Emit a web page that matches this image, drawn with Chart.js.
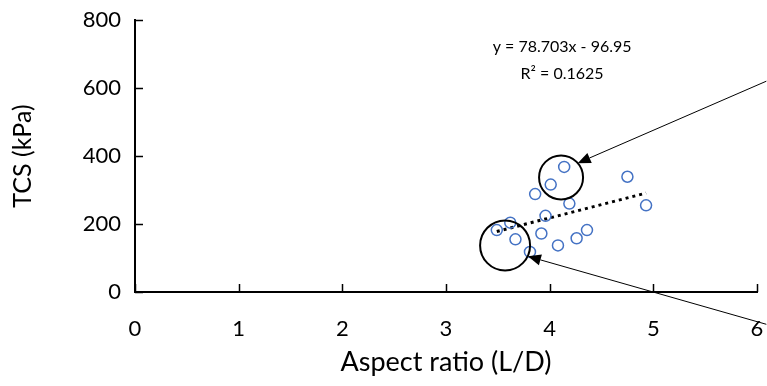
<!DOCTYPE html>
<html>
<head>
<meta charset="utf-8">
<script src="https://cdn.jsdelivr.net/npm/chart.js@4"></script>
<style>
  html, body { margin: 0; padding: 0; background: #fff; }
  #wrap { width: 767px; height: 386px; }
</style>
</head>
<body>
<div id="wrap"><canvas id="tcsChart"></canvas></div>
<script>
// Dados
const aspectRatio = [3.49, 3.62, 3.67, 3.81, 3.86, 3.92, 3.96, 4.01, 4.08, 4.14, 4.19, 4.26, 4.36, 4.75, 4.93];
const tcs = [182, 204, 155, 118, 288, 172, 224, 316, 137, 368, 260, 158, 182, 339, 255];
const slope = 78.703;
const intercept = -96.95;
const eqLines = ['y = 78.703x - 96.95', 'R² = 0.1625'];

const FONT = 'Lato, "Open Sans", sans-serif';

const xMin = Math.min(...aspectRatio);
const xMax = Math.max(...aspectRatio);
const trend = [
    { x: xMin, y: slope * xMin + intercept },
    { x: xMax, y: slope * xMax + intercept }
];

// desenha marcas internas, círculos, setas e equação
const extras = {
    id: 'extras',
    afterDraw(chart) {
        const { ctx, scales: { x, y } } = chart;
        ctx.save();
        // marcas dos eixos (para dentro)
        ctx.strokeStyle = '#000';
        ctx.lineWidth = 1.5;
        ctx.beginPath();
        x.ticks.forEach(t => {
            const px = Math.round(x.getPixelForValue(t.value)) + 0.5;
            ctx.moveTo(px, y.bottom);
            ctx.lineTo(px, y.bottom - 8);
        });
        y.ticks.forEach(t => {
            const py = Math.round(y.getPixelForValue(t.value)) + 0.5;
            ctx.moveTo(x.left, py);
            ctx.lineTo(x.left + 8, py);
        });
        ctx.stroke();

        // círculos
        ctx.lineWidth = 2;
        [[4.11, 337, 22], [3.57, 137, 25]].forEach(c => {
            ctx.beginPath();
            ctx.arc(x.getPixelForValue(c[0]), y.getPixelForValue(c[1]), c[2], 0, Math.PI * 2);
            ctx.stroke();
        });

        // setas
        ctx.lineWidth = 1;
        ctx.fillStyle = '#000';
        [[6.09, 620, 4.27, 379], [6.09, -95, 3.79, 105]].forEach(a => {
            const x1 = x.getPixelForValue(a[0]), y1 = y.getPixelForValue(a[1]);
            const x2 = x.getPixelForValue(a[2]), y2 = y.getPixelForValue(a[3]);
            const ang = Math.atan2(y2 - y1, x2 - x1);
            const len = 13, w = 5.5;
            const bx = x2 - len * Math.cos(ang), by = y2 - len * Math.sin(ang);
            ctx.beginPath();
            ctx.moveTo(x1, y1);
            ctx.lineTo(bx, by);
            ctx.stroke();
            ctx.beginPath();
            ctx.moveTo(x2, y2);
            ctx.lineTo(bx + w * Math.sin(ang), by - w * Math.cos(ang));
            ctx.lineTo(bx - w * Math.sin(ang), by + w * Math.cos(ang));
            ctx.closePath();
            ctx.fill();
        });

        // equação
        ctx.font = '16px ' + FONT;
        ctx.textAlign = 'center';
        ctx.textBaseline = 'middle';
        ctx.fillStyle = '#000';
        const ex = x.getPixelForValue(4.12);
        ctx.fillText(eqLines[0], ex, y.getPixelForValue(720));
        ctx.fillText(eqLines[1], ex, y.getPixelForValue(643));
        ctx.restore();
    }
};

const ctx = document.getElementById('tcsChart').getContext('2d');
new Chart(ctx, {
    type: 'scatter',
    data: {
        datasets: [{
            label: 'TCS',
            data: aspectRatio.map((v, i) => ({ x: v, y: tcs[i] })),
            borderColor: '#4472C4',
            backgroundColor: 'rgba(0,0,0,0)',
            borderWidth: 1.5,
            pointRadius: 5.5,
            pointHoverRadius: 5.5
        }, {
            label: 'Linear',
            type: 'line',
            data: trend,
            borderColor: '#000',
            borderWidth: 3,
            borderDash: [3, 4],
            pointRadius: 0,
            fill: false
        }]
    },
    options: {
        responsive: true,
        maintainAspectRatio: false,
        animation: false,
        layout: { padding: { left: 8, top: 20, right: 10, bottom: 8 } },
        plugins: {
            legend: { display: false },
            tooltip: { enabled: false }
        },
        scales: {
            x: {
                type: 'linear',
                min: 0,
                max: 6,
                ticks: { stepSize: 1, padding: 24, color: '#000', font: { family: FONT, size: 22 } },
                grid: { display: true, drawOnChartArea: false, drawTicks: false },
                border: { color: '#000', width: 2 },
                title: { display: true, text: 'Aspect ratio (L/D)', color: '#000', font: { family: FONT, size: 27 }, padding: { top: 0, bottom: 0 } },
                afterFit: s => { s.height = 86; s.paddingLeft = 0; s.paddingRight = 0; }
            },
            y: {
                min: 0,
                max: 800,
                ticks: { stepSize: 200, padding: 14, color: '#000', font: { family: FONT, size: 22 } },
                grid: { display: true, drawOnChartArea: false, drawTicks: false },
                border: { color: '#000', width: 2 },
                title: { display: true, text: 'TCS (kPa)', color: '#000', font: { family: FONT, size: 25 }, padding: 0 },
                afterFit: s => { s.width = 127; s.paddingTop = 0; s.paddingBottom = 0; }
            }
        }
    },
    plugins: [extras]
});
</script>
</body>
</html>
